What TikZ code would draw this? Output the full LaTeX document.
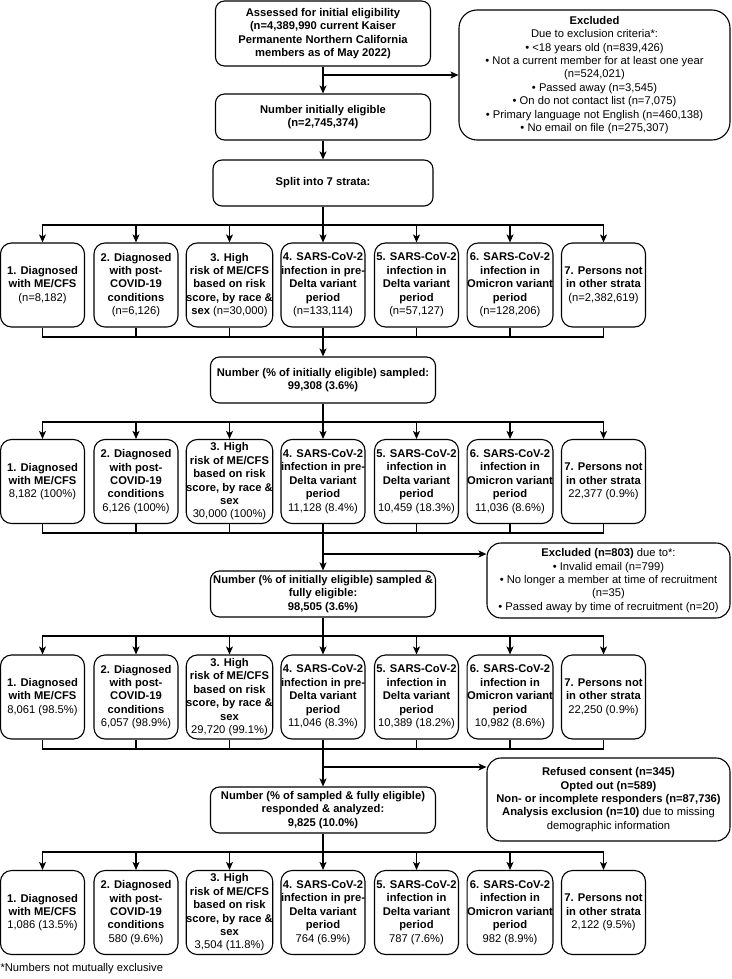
\documentclass[tikz,border=0pt]{standalone}
\usepackage{fontspec}
\setmainfont{Liberation Sans}
\usetikzlibrary{arrows.meta}
\newcommand\diagfont{\fontsize{11.2}{13.4}\selectfont}
\begin{document}
\begin{tikzpicture}[x=1pt,y=-1pt,line width=1.1pt,
  >={Stealth[length=8pt,width=7pt,inset=2pt]},
  every node/.style={font=\diagfont},
  box/.style={draw,rounded corners=9pt,align=center,inner sep=0pt},
  strat/.style={box,rounded corners=11pt,minimum width=84pt,minimum height=84pt},
  cbox/.style={box,minimum height=46pt},
  sidebox/.style={box,rounded corners=14pt},
  hline/.style={line cap=rect}]
\useasboundingbox (0,0) rectangle (731,979);

% central boxes
\node[box,minimum width=215pt,minimum height=65pt] (top) at (323,33.5)
  {\textbf{Assessed for initial eligibility}\\\textbf{(n=4,389,990 current Kaiser}\\\textbf{Permanente Northern California}\\\textbf{members as of May 2022)}};
\node[sidebox,rounded corners=18pt,minimum width=271pt,minimum height=130pt] (excl) at (594.5,75)
  {\textbf{Excluded}\\Due to exclusion criteria*:\\• <18 years old (n=839,426)\\• Not a current member for at least one year\\(n=524,021)\\• Passed away (n=3,545)\\• On do not contact list (n=7,075)\\• Primary language not English (n=460,138)\\• No email on file (n=275,307)};
\node[cbox,minimum width=215pt] (nie) at (323,117)
  {\textbf{Number initially eligible}\\\textbf{(n=2,745,374)}};
\node[cbox,minimum width=220pt] (split) at (323,183) {\textbf{Split into 7 strata:}};
\node[cbox,minimum width=225pt] (samp) at (323,380)
  {\textbf{Number (\% of initially eligible) sampled:}\\\textbf{99,308 (3.6\%)}};
\node[cbox,minimum width=225pt] (fe) at (323,594)
  {\textbf{Number (\% of initially eligible) sampled \&}\\\textbf{fully eligible:}\\\textbf{98,505 (3.6\%)}};
\node[sidebox,minimum width=243pt,minimum height=75pt] (excl2) at (608.5,580.5)
  {\textbf{Excluded (n=803)} due to*:\\• Invalid email (n=799)\\• No longer a member at time of recruitment\\(n=35)\\• Passed away by time of recruitment (n=20)};
\node[cbox,minimum width=225pt] (resp) at (323,810)
  {\textbf{Number (\% of sampled \& fully eligible)}\\\textbf{responded \& analyzed:}\\\textbf{9,825 (10.0\%)}};
\node[sidebox,minimum width=243pt,minimum height=83pt] (refu) at (608.5,799.5)
  {\textbf{Refused consent (n=345)}\\\textbf{Opted out (n=589)}\\\textbf{Non- or incomplete responders (n=87,736)}\\\textbf{Analysis exclusion (n=10)} due to missing\\demographic information};

% row 1
\node[strat] (r11) at (42.5,285) {\textbf{1. Diagnosed}\\\textbf{with ME/CFS}\\(n=8,182)};
\node[strat] (r12) at (136,285) {\textbf{2. Diagnosed}\\\textbf{with post-}\\\textbf{COVID-19}\\\textbf{conditions}\\(n=6,126)};
\node[strat] (r13) at (229.5,285) {\textbf{3. High}\\\textbf{risk of ME/CFS}\\\textbf{based on risk}\\\textbf{score, by race \&}\\\textbf{sex} (n=30,000)};
\node[strat] (r14) at (323,285) {\textbf{4. SARS-CoV-2}\\\textbf{infection in pre-}\\\textbf{Delta variant}\\\textbf{period}\\(n=133,114)};
\node[strat] (r15) at (416.5,285) {\textbf{5. SARS-CoV-2}\\\textbf{infection in}\\\textbf{Delta variant}\\\textbf{period}\\(n=57,127)};
\node[strat] (r16) at (510,285) {\textbf{6. SARS-CoV-2}\\\textbf{infection in}\\\textbf{Omicron variant}\\\textbf{period}\\(n=128,206)};
\node[strat] (r17) at (603.5,285) {\textbf{7. Persons not}\\\textbf{in other strata}\\(n=2,382,619)};

% row 2
\node[strat] (r21) at (42.5,481.5) {\textbf{1. Diagnosed}\\\textbf{with ME/CFS}\\8,182 (100\%)};
\node[strat] (r22) at (136,481.5) {\textbf{2. Diagnosed}\\\textbf{with post-}\\\textbf{COVID-19}\\\textbf{conditions}\\6,126 (100\%)};
\node[strat] (r23) at (229.5,481.5) {\textbf{3. High}\\\textbf{risk of ME/CFS}\\\textbf{based on risk}\\\textbf{score, by race \&}\\\textbf{sex}\\30,000 (100\%)};
\node[strat] (r24) at (323,481.5) {\textbf{4. SARS-CoV-2}\\\textbf{infection in pre-}\\\textbf{Delta variant}\\\textbf{period}\\11,128 (8.4\%)};
\node[strat] (r25) at (416.5,481.5) {\textbf{5. SARS-CoV-2}\\\textbf{infection in}\\\textbf{Delta variant}\\\textbf{period}\\10,459 (18.3\%)};
\node[strat] (r26) at (510,481.5) {\textbf{6. SARS-CoV-2}\\\textbf{infection in}\\\textbf{Omicron variant}\\\textbf{period}\\11,036 (8.6\%)};
\node[strat] (r27) at (603.5,481.5) {\textbf{7. Persons not}\\\textbf{in other strata}\\22,377 (0.9\%)};

% row 3
\node[strat] (r31) at (42.5,697) {\textbf{1. Diagnosed}\\\textbf{with ME/CFS}\\8,061 (98.5\%)};
\node[strat] (r32) at (136,697) {\textbf{2. Diagnosed}\\\textbf{with post-}\\\textbf{COVID-19}\\\textbf{conditions}\hspace{14pt}\\6,057 (98.9\%)\hspace{12pt}};
\node[strat] (r33) at (229.5,697) {\textbf{3. High}\\\textbf{risk of ME/CFS}\\\textbf{based on risk}\\\textbf{score, by race \&}\\\textbf{sex}\\29,720 (99.1\%)};
\node[strat] (r34) at (323,697) {\textbf{4. SARS-CoV-2}\\\textbf{infection in pre-}\\\textbf{Delta variant}\\\textbf{period}\\11,046 (8.3\%)};
\node[strat] (r35) at (416.5,697) {\textbf{5. SARS-CoV-2}\\\textbf{infection in}\\\textbf{Delta variant}\\\textbf{period}\\10,389 (18.2\%)};
\node[strat] (r36) at (510,697) {\textbf{6. SARS-CoV-2}\\\textbf{infection in}\\\textbf{Omicron variant}\\\textbf{period}\\10,982 (8.6\%)};
\node[strat] (r37) at (603.5,697) {\textbf{7. Persons not}\\\textbf{in other strata}\\22,250 (0.9\%)};

% row 4
\node[strat] (r41) at (42.5,912.5) {\textbf{1. Diagnosed}\\\textbf{with ME/CFS}\\1,086 (13.5\%)};
\node[strat] (r42) at (136,912.5) {\textbf{2. Diagnosed}\\\textbf{with post-}\\\textbf{COVID-19}\\\textbf{conditions}\hspace{14pt}\\580 (9.6\%)};
\node[strat] (r43) at (229.5,912.5) {\textbf{3. High}\\\textbf{risk of ME/CFS}\\\textbf{based on risk}\\\textbf{score, by race \&}\\\textbf{sex}\\3,504 (11.8\%)};
\node[strat] (r44) at (323,912.5) {\textbf{4. SARS-CoV-2}\\\textbf{infection in pre-}\\\textbf{Delta variant}\\\textbf{period}\\764 (6.9\%)};
\node[strat] (r45) at (416.5,912.5) {\textbf{5. SARS-CoV-2}\\\textbf{infection in}\\\textbf{Delta variant}\\\textbf{period}\\787 (7.6\%)};
\node[strat] (r46) at (510,912.5) {\textbf{6. SARS-CoV-2}\\\textbf{infection in}\\\textbf{Omicron variant}\\\textbf{period}\\982 (8.9\%)};
\node[strat] (r47) at (603.5,912.5) {\textbf{7. Persons not}\\\textbf{in other strata}\\2,122 (9.5\%)};

\node[anchor=west,inner sep=0pt] (fn) at (0,969) {*Numbers not mutually exclusive};

% connectors
\coordinate (j1) at (323,75);
\draw[->] (top) -- (nie);
\draw[->] (j1) -- (j1 -| excl.west);
\draw[->] (nie) -- (split);

% distribution / combination
\coordinate (d1) at (323,225);
\coordinate (c1) at (323,337);
\coordinate (d2) at (323,422);
\coordinate (c2) at (323,533);
\coordinate (j2) at (323,554);
\coordinate (d3) at (323,636);
\coordinate (c3) at (323,749);
\coordinate (j3) at (323,767);
\coordinate (d4) at (323,852);

\draw (split.south) -- (d1);
\draw[hline] (r11.north |- d1) -- (r17.north |- d1);
\foreach \i in {1,...,7} {\draw[->] (r1\i.north |- d1) -- (r1\i.north);}
\foreach \i in {1,...,7} {\draw (r1\i.south) -- (r1\i.south |- c1);}
\draw[hline] (r11.south |- c1) -- (r17.south |- c1);
\draw[->] (c1) -- (samp.north);

\draw (samp.south) -- (d2);
\draw[hline] (r21.north |- d2) -- (r27.north |- d2);
\foreach \i in {1,...,7} {\draw[->] (r2\i.north |- d2) -- (r2\i.north);}
\foreach \i in {1,...,7} {\draw (r2\i.south) -- (r2\i.south |- c2);}
\draw[hline] (r21.south |- c2) -- (r27.south |- c2);
\draw[->] (c2) -- (fe.north);
\draw[->] (j2) -- (j2 -| excl2.west);

\draw (fe.south) -- (d3);
\draw[hline] (r31.north |- d3) -- (r37.north |- d3);
\foreach \i in {1,...,7} {\draw[->] (r3\i.north |- d3) -- (r3\i.north);}
\foreach \i in {1,...,7} {\draw (r3\i.south) -- (r3\i.south |- c3);}
\draw[hline] (r31.south |- c3) -- (r37.south |- c3);
\draw[->] (c3) -- (resp.north);
\draw[->] (j3) -- (j3 -| refu.west);

\draw (resp.south) -- (d4);
\draw[hline] (r41.north |- d4) -- (r47.north |- d4);
\foreach \i in {1,...,7} {\draw[->] (r4\i.north |- d4) -- (r4\i.north);}
\end{tikzpicture}
\end{document}
